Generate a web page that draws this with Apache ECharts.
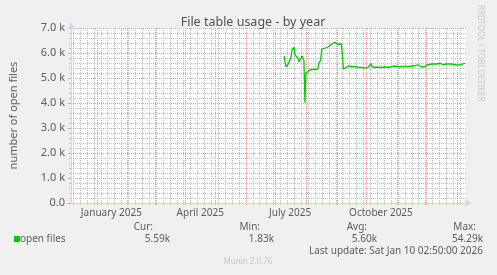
<!DOCTYPE html>
<html><head><meta charset="utf-8">
<script src="https://cdn.jsdelivr.net/npm/echarts@6/dist/echarts.min.js"></script>
<style>html,body{margin:0;padding:0;background:#f0f0f0}#c{width:497px;height:275px}</style>
</head><body><div id="c"></div>
<script>
// ---- data ----
const dates = ['2025-07-10','2025-07-11','2025-07-12','2025-07-13','2025-07-14','2025-07-16','2025-07-17','2025-07-18','2025-07-20','2025-07-21','2025-07-22','2025-07-24','2025-07-25','2025-07-27','2025-07-28','2025-07-30','2025-07-31','2025-08-01','2025-08-03','2025-08-05','2025-08-07','2025-08-09','2025-08-11','2025-08-13','2025-08-14','2025-08-16','2025-08-17','2025-08-19','2025-08-23','2025-08-26','2025-08-28','2025-08-30','2025-09-02','2025-09-04','2025-09-06','2025-09-08','2025-09-10','2025-09-13','2025-09-17','2025-09-20','2025-09-23','2025-09-27','2025-09-30','2025-10-03','2025-10-06','2025-10-07','2025-10-10','2025-10-13','2025-10-17','2025-10-20','2025-10-23','2025-10-27','2025-10-30','2025-11-02','2025-11-06','2025-11-09','2025-11-12','2025-11-16','2025-11-19','2025-11-22','2025-11-26','2025-11-29','2025-12-02','2025-12-05','2025-12-08','2025-12-10','2025-12-11','2025-12-15','2025-12-18','2025-12-21','2025-12-25','2025-12-28','2025-12-31','2026-01-04','2026-01-07','2026-01-09'];
const openFiles = [5880,5580,5450,5500,5550,5630,5850,6120,6230,5920,5960,5790,5650,5790,5880,5720,4010,5190,5250,5320,5350,5350,5390,5350,5590,5720,6150,6190,6230,6320,6360,6430,6350,6320,6360,5350,5430,5480,5450,5450,5430,5420,5390,5430,5570,5450,5430,5430,5420,5450,5430,5450,5480,5450,5450,5470,5450,5480,5490,5530,5450,5440,5520,5550,5560,5630,5560,5590,5530,5560,5560,5550,5520,5530,5560,5590];
const monthStarts = ['2025-01-01','2025-02-01','2025-03-01','2025-04-01','2025-05-01','2025-06-01','2025-07-01','2025-08-01','2025-09-01','2025-10-01','2025-11-01','2025-12-01','2026-01-01'];
const xLabelDates = ['2025-01-16','2025-04-16','2025-07-16','2025-10-16'];
const xLabels = ['January 2025','April 2025','July 2025','October 2025'];
const legendName = 'open files';
const statHeads = ['Cur:','Min:','Avg:','Max:'];
const statValues = ['5.59k','1.83k','5.60k','54.29k'];

const ts = s => Date.parse(s + 'T00:00:00Z');
const END = Date.UTC(2026,0,10,2,50,0);
const START = END - 400*86400000;
const weekLines = [];
for (let t = Date.UTC(2024,11,8); t < END; t += 7*86400000) weekLines.push(t);
const labelTs = xLabelDates.map(ts);

const FONT = 'Noto Sans';
const TXT = '#5c5c5c';
const RED = '#eb9595';
const GRAY = '#bdbdbd';
const AXIS = '#cfd6f8';
const chart = echarts.init(document.getElementById('c'));

function gridLines(params, api){
  const kids = [];
  const yTop = Math.round(api.coord([START, 7000])[1]);
  const yBot = Math.round(api.coord([START, 0])[1]);
  weekLines.forEach(t => {
    const x = Math.round(api.coord([t, 0])[0]) + 0.5;
    kids.push({type:'line', shape:{x1:x, y1:yTop, x2:x, y2:yBot + 2}, style:{stroke:GRAY, lineWidth:1, lineDash:[1,1]}});
  });
  monthStarts.forEach(s => {
    const x = Math.round(api.coord([ts(s), 0])[0]) + 0.5;
    kids.push({type:'line', shape:{x1:x, y1:yTop, x2:x, y2:yBot + 3}, style:{stroke:RED, lineWidth:1, lineDash:[1,1]}});
  });
  return {type:'group', children:kids, silent:true};
}

chart.setOption({
  backgroundColor:'#f0f0f0',
  animation:false,
  textStyle:{fontFamily:FONT},
  title:{text:'File table usage - by year', left:248, textAlign:'center', top:11, textStyle:{fontFamily:FONT, fontSize:12.5, fontWeight:'normal', color:'#505050'}},
  grid:{left:66, right:31, top:28, bottom:72, show:true, backgroundColor:'#ffffff', borderWidth:0},
  xAxis:{type:'value', min:START, max:END,
    axisLine:{show:true, lineStyle:{color:AXIS}, symbol:['none','arrow'], symbolSize:[6,8], symbolOffset:[0,6]},
    axisTick:{show:false}, splitLine:{show:false},
    axisLabel:{customValues:labelTs, formatter:v=>{const i=labelTs.indexOf(v);return i>=0?xLabels[i]:'';}, color:TXT, fontSize:10, margin:5, fontFamily:FONT}
  },
  yAxis:{type:'value', min:0, max:7000, interval:1000,
    axisLine:{show:true, lineStyle:{color:AXIS}, symbol:['none','arrow'], symbolSize:[6,8], symbolOffset:[0,6]},
    axisTick:{show:true, length:3, lineStyle:{color:RED}},
    minorTick:{show:true, splitNumber:5, length:2, lineStyle:{color:GRAY}},
    splitLine:{show:true, lineStyle:{color:RED, type:[1,1]}},
    minorSplitLine:{show:true, lineStyle:{color:GRAY, type:[1,1]}},
    axisLabel:{formatter:v=> v===0 ? '0.0' : (v/1000).toFixed(1)+' k', color:TXT, fontSize:11, margin:6, fontFamily:FONT},
    name:'number of open files', nameLocation:'middle', nameGap:52, nameTextStyle:{color:TXT, fontSize:11, fontFamily:FONT}
  },
  series:[
    {type:'custom', renderItem:gridLines, data:[[START, 0]], clip:false, silent:true, z:1},
    {type:'line', name:legendName, data:dates.map((d,i)=>[ts(d), openFiles[i]]), showSymbol:false, symbol:'none',
     lineStyle:{color:'#00cc00', width:1.3}, itemStyle:{color:'#00cc00'}, z:5}
  ],
  graphic:[
    {type:'text', x:484, y:5, rotation:-Math.PI/2, style:{text:'RRDTOOL / TOBI OETIKER', fill:'#c8c8c8', font:'8px '+FONT}},
    {type:'rect', shape:{x:14, y:236, width:6, height:6}, style:{fill:'#00cc00'}},
    {type:'text', x:20, y:239, style:{text:legendName, fill:TXT, font:'10px '+FONT, textVerticalAlign:'middle'}},
    ...statHeads.map((h,i)=>({type:'text', x:[153,260,367,476][i], y:227, style:{text:h, fill:TXT, font:'10px '+FONT, textAlign:'right', textVerticalAlign:'middle'}})),
    ...statValues.map((h,i)=>({type:'text', x:[170,274,377,483][i], y:239, style:{text:h, fill:TXT, font:'10px '+FONT, textAlign:'right', textVerticalAlign:'middle'}})),
    {type:'text', x:483, y:251, style:{text:'Last update: Sat Jan 10 02:50:00 2026', fill:TXT, font:'10px '+FONT, textAlign:'right', textVerticalAlign:'middle'}},
    {type:'text', x:248, y:262, style:{text:'Munin 2.0.76', fill:'#c8c8c8', font:'8px '+FONT, textAlign:'center', textVerticalAlign:'middle'}}
  ]
});
</script></body></html>
